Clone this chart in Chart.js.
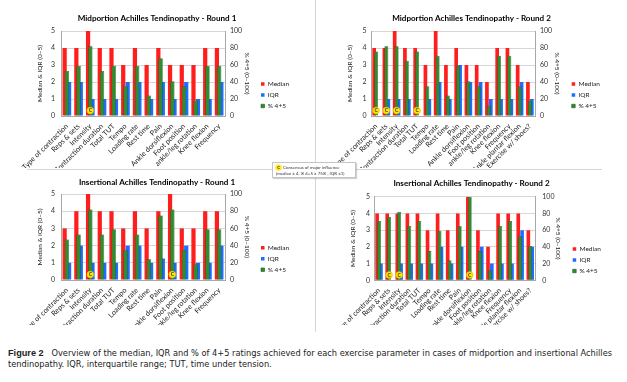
<!DOCTYPE html>
<html><head><meta charset="utf-8">
<script src="https://cdn.jsdelivr.net/npm/chart.js@4.4.1/dist/chart.umd.min.js"></script>
<style>
html,body{margin:0;padding:0;background:#fff}
body{width:627px;height:382px;position:relative;overflow:hidden;font-family:Lato,"Liberation Sans",sans-serif}
.cv{position:absolute}
#vline{position:absolute;left:315px;top:0;width:1px;height:332px;background:#d6d6d6}
#hline{position:absolute;left:27px;top:169px;width:575px;height:1px;background:#d6d6d6}
#cons{position:absolute;left:272px;top:162px;width:84px;height:16px;background:#fff;border:1px solid #c4c4c4;box-shadow:1px 1px 1px rgba(0,0,0,.18);font-size:4.4px;line-height:6px;color:#333;white-space:nowrap;box-sizing:border-box;padding:1.5px 0 0 3px}
#cons .ic{display:inline-block;width:5px;height:5px;border-radius:50%;background:#ffea00;box-shadow:0 0 1px 1px #ffe680;text-align:center;font-weight:bold;font-size:4px;line-height:5px;vertical-align:middle;margin-right:2px}
#cap{position:absolute;left:8px;top:348px;font-family:"DejaVu Sans Condensed","DejaVu Sans",sans-serif;font-stretch:condensed;font-size:9px;line-height:9.5px;color:#222;white-space:nowrap}
#cap b{font-family:"Liberation Sans",Arial,sans-serif;font-stretch:normal}
</style></head>
<body>
<canvas id="c1" class="cv"></canvas>
<canvas id="c2" class="cv"></canvas>
<canvas id="c3" class="cv"></canvas>
<canvas id="c4" class="cv"></canvas>
<div id="vline"></div>
<div id="hline"></div>
<div id="cons"><span class="ic">C</span>Consensus of major influence<br>(median ≥ 4, % 4+5 ≥ 75% , IQR ≤1)</div>
<div id="cap"><span id="l1"><b>Figure 2</b>&nbsp;&nbsp;&nbsp;Overview of the median, IQR and % of 4+5 ratings achieved for each exercise parameter in cases of midportion and insertional Achilles</span><br>tendinopathy. IQR, interquartile range; TUT, time under tension.</div>
<script>
// ---------- DATA ----------
const cats1 = ["Type of contraction","Reps & sets","Intensity","Contraction duration","Total TUT","Tempo","Loading rate","Rest time","Pain","Ankle dorsiflexion","Foot position","ankle/leg rotation","Knee flexion","Frequency"];
const cats2 = ["Type of contraction","Reps & sets","Intensity","Contraction duration","Total TUT","Tempo","Loading rate","Rest time","Pain","Ankle dorsiflexion","Foot position","ankle/leg rotation","Knee flexion","Frequency","Ankle plantar flexion","Exercise w/ shoes?"];

const midR1Median = [4,4,5,4,4,3,4,3,4,3,3,3,4,4];
const midR1IQR    = [2,2,1,1,1,2,2,1,2,1,2,1,1,2];
const midR1Pct    = [53,59,82,53,59,35,59,24,68,41,35,18,59,59];
const midR1Cons   = [0,0,1,0,0,0,0,0,0,0,0,0,0,0];

const midR2Median = [4,4,5,4,4,3,5,3,4,3,3,2,4,4,3,2];
const midR2IQR    = [0,1,1,1,0,1,2,1,3,2,2,1,1,1,2,1];
const midR2Pct    = [76,82,82,65,76,35,71,24,59,41,35,12,71,71,35,18];
const midR2Cons   = [1,1,1,0,1,0,0,0,0,0,0,0,0,0,0,0];

const insR1Median = [3,4,5,4,4,3,4,3,4,5,3,3,4,4];
const insR1IQR    = [1,2,1,1,1,2,2,1,1.25,1,2,1,1,2];
const insR1Pct    = [47,53,82,53,59,35,53,24,75,82,35,18,59,59];
const insR1Cons   = [0,0,1,0,0,0,0,0,0,1,0,0,0,0];

const insR2Median = [4,4,4,4,4,3,4,3,4,5,3,2,4,4,4,3];
const insR2IQR    = [1,0,1,1,1,1,2,1,2,0,2,1,1,1,3,2];
const insR2Pct    = [71,76,82,65,71,35,59,24,65,100,35,12,65,71,53,41];
const insR2Cons   = [0,1,1,0,0,0,0,0,0,1,0,0,0,0,0,0];

const seriesNames = ["Median","IQR","% 4+5"];
const leftAxisTitle = "Median & IQR (0–5)";
const rightAxisTitle = "% 4+5 (0–100)";
const titles = ["Midportion Achilles Tendinopathy - Round 1","Midportion Achilles Tendinopathy - Round 2","Insertional Achilles Tendinopathy - Round 1","Insertional Achilles Tendinopathy - Round 2"];

// ---------- STYLE / LAYOUT ----------
Chart.defaults.font.family = 'Lato, "Liberation Sans", sans-serif';
Chart.defaults.color = '#222';
const MARK_LEVEL = 0.32;
const TFS = 8.1, TLH = TFS*1.2;    // title font
const AFS = 6.5, ALH = AFS*1.2;    // axis title font
const LFS = 6.5, LP = 4.5;         // legend font & padding

const fixPlugin = {
  id:'fix',
  beforeLayout(chart){
    const lg = chart.legend;
    if (lg && !lg.__p){
      const f = lg.fit;
      lg.fit = function(){ f.call(this); this.width = chart.$LW; };
      lg.__p = true;
    }
  },
  afterDatasetsDraw(chart){
    const meta = chart.getDatasetMeta(3);
    const ds = chart.data.datasets[3];
    const ctx = chart.ctx;
    ctx.save();
    ctx.font = 'bold 5px Lato, sans-serif';
    ctx.fillStyle = '#333';
    ctx.textAlign = 'center';
    ctx.textBaseline = 'middle';
    meta.data.forEach((pt,i)=>{ if (ds.data[i] != null) ctx.fillText('C', pt.x, pt.y+0.3); });
    ctx.restore();
  }
};

function makeChart(id, pos, lay, labels, median, iqr, pct, cons, title){
  const el = document.getElementById(id);
  el.style.left = pos.x+'px'; el.style.top = pos.y+'px';
  el.style.width = lay.w+'px'; el.style.height = lay.h+'px';
  el.width = lay.w; el.height = lay.h;
  const legendLeft = lay.legendX - LP;
  const LW = lay.w - legendLeft;
  const y1W = legendLeft - lay.R;
  const tPadTop = lay.titleY - TLH/2;
  const tPadBot = lay.T - tPadTop - TLH;
  const ch = new Chart(el, {
    type:'bar',
    data:{
      labels: labels,
      datasets:[
        {label:seriesNames[0], data:median, yAxisID:'y', backgroundColor:'#ff1e1e', borderColor:'#e01010', borderWidth:0, categoryPercentage:0.76, barPercentage:0.95, order:2},
        {label:seriesNames[1], data:iqr, yAxisID:'y', backgroundColor:'#1f6cff', borderColor:'#1450c0', borderWidth:0, categoryPercentage:0.76, barPercentage:0.95, order:2},
        {label:seriesNames[2], data:pct, yAxisID:'y1', backgroundColor:'#2f8c2f', borderColor:'#1b5a1b', borderWidth:0.6, grouped:false, categoryPercentage:0.76, barPercentage:0.5, order:1},
        {type:'line', label:'consensus', data:cons.map(c=>c?MARK_LEVEL:null), yAxisID:'y', showLine:false, pointRadius:3.3, pointHoverRadius:3.3, pointBackgroundColor:'#ffe800', pointBorderColor:'#f3c300', pointBorderWidth:0.8, order:0}
      ]
    },
    options:{
      responsive:false, animation:false, devicePixelRatio:1,
      layout:{padding:0},
      plugins:{
        tooltip:{enabled:false},
        title:{display:true, text:title, color:'#000', font:{size:TFS, weight:'bold'}, padding:{top:tPadTop, bottom:tPadBot}},
        legend:{position:'right', align:'start', fullSize:true,
          title:{display:true, text:' ', font:{size:1, lineHeight:1}, padding:{top:lay.legendY - LP - LFS/2 - 1, bottom:0}},
          labels:{boxWidth:3.5, boxHeight:3.5, padding:LP, color:'#222', font:{size:LFS},
            filter:(it)=>it.datasetIndex<3, sort:(a,b)=>a.datasetIndex-b.datasetIndex}}
      },
      scales:{
        x:{type:'category', offset:true,
          grid:{display:false, drawTicks:false},
          border:{display:true, color:'#a8a8a8'},
          ticks:{autoSkip:false, maxRotation:45, minRotation:45, padding:6, font:{size:7.2}, color:'#222'},
          afterFit(s){ s.height = lay.h - lay.B; s.paddingLeft = 0; s.paddingRight = 0; }
        },
        y:{position:'left', min:0, max:5,
          ticks:{stepSize:1, padding:lay.yTickPad, font:{size:7}, color:'#333'},
          grid:{color:'#d6d6d6', drawTicks:false},
          border:{display:true, color:'#a8a8a8'},
          title:{display:true, text:leftAxisTitle, font:{size:AFS}, color:'#222', padding:{top:lay.yTitleX - ALH/2, bottom:0}},
          afterFit(s){ s.width = lay.L; s.paddingTop = 0; s.paddingBottom = 0; }
        },
        y1:{position:'right', min:0, max:100,
          ticks:{stepSize:20, padding:lay.y1TickPad, font:{size:7}, color:'#333'},
          grid:{drawOnChartArea:false, drawTicks:false},
          border:{display:true, color:'#a8a8a8'},
          title:{display:true, text:rightAxisTitle, font:{size:AFS}, color:'#222', padding:{top:(legendLeft - lay.y1TitleX) - ALH/2, bottom:0}},
          afterFit(s){ s.width = y1W; s.paddingTop = 0; s.paddingBottom = 0; }
        }
      }
    },
    plugins:[fixPlugin]
  });
  ch.$LW = LW;
  ch.update();
  return ch;
}

makeChart('c1', {x:0,y:0},
  {w:314,h:168,L:61,R:225,T:31,B:116,titleY:18.3,yTitleX:40,y1TitleX:246.7,legendX:261,legendY:84,yTickPad:6,y1TickPad:5},
  cats1, midR1Median, midR1IQR, midR1Pct, midR1Cons, titles[0]);
makeChart('c2', {x:316,y:0},
  {w:311,h:168,L:55,R:219,T:31,B:116,titleY:18.3,yTitleX:34,y1TitleX:240.7,legendX:255.7,legendY:84,yTickPad:4.5,y1TickPad:5},
  cats2, midR2Median, midR2IQR, midR2Pct, midR2Cons, titles[1]);
makeChart('c3', {x:0,y:170},
  {w:314,h:155,L:61,R:225,T:24,B:110,titleY:12.3,yTitleX:40,y1TitleX:246.7,legendX:261,legendY:77.7,yTickPad:6,y1TickPad:5},
  cats1, insR1Median, insR1IQR, insR1Pct, insR1Cons, titles[2]);
makeChart('c4', {x:316,y:170},
  {w:311,h:155,L:58,R:219.3,T:26.7,B:110.3,titleY:13.7,yTitleX:37.3,y1TitleX:242,legendX:256.7,legendY:79,yTickPad:4,y1TickPad:7},
  cats2, insR2Median, insR2IQR, insR2Pct, insR2Cons, titles[3]);

// fit caption line 1 to its width in the reference
(function(){
  const cap = document.getElementById('cap'), l1 = document.getElementById('l1');
  const w = l1.getBoundingClientRect().width;
  const fs = 9 * 604 / w;
  cap.style.fontSize = fs.toFixed(2)+'px';
})();
</script>
</body></html>
